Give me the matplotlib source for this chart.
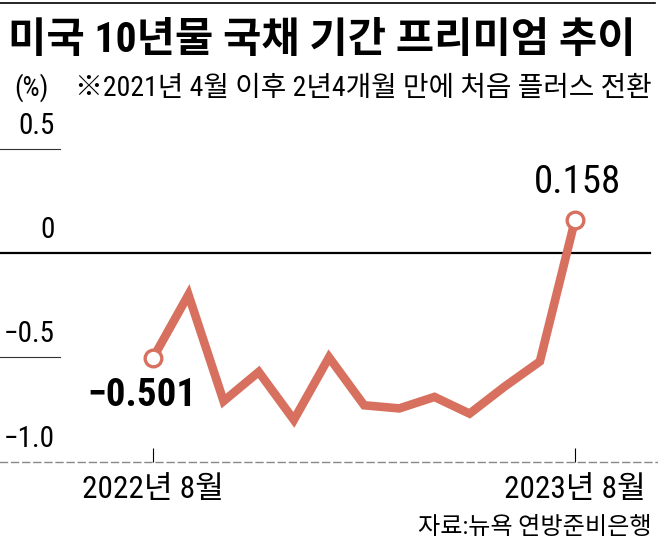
import matplotlib
matplotlib.use("Agg")
import matplotlib.pyplot as plt
from matplotlib.lines import Line2D

# monthly term premium, 2022-08 .. 2023-08 (%)
months = ['2022년 8월', '9월', '10월', '11월', '12월', '2023년 1월', '2월',
          '3월', '4월', '5월', '6월', '7월', '2023년 8월']
premium = [-0.501, -0.20, -0.71, -0.57, -0.80, -0.50, -0.73,
           -0.745, -0.69, -0.77, -0.64, -0.52, 0.158]
yticks = [0.5, 0, -0.5, -1.0]
ytick_labels = ['0.5', '0', '−0.5', '−1.0']

title = '미국 10년물 국채 기간 프리미엄 추이'
subtitle = '※2021년 4월 이후 2년4개월 만에 처음 플러스 전환'
source = '자료:뉴욕 연방준비은행'

LINE_C = '#d8705f'
NUM_FONT = ['Roboto Condensed', 'Noto Sans CJK KR', 'DejaVu Sans']
plt.rcParams['font.family'] = NUM_FONT

W, H = 658, 547
fig = plt.figure(figsize=(W / 100, H / 100), dpi=100)
ax = fig.add_axes([0, 0, 1, 1])

# map data to pixels: x index 0 -> 153px, 12 -> 575px ; y 0 -> 253px
px_x = (575 - 153.3) / 12
px_y = 208.6
ax.set_xlim(-153.3 / px_x, 12 + (W - 575) / px_x)
ax.set_ylim(-(H - 253) / px_y, 253 / px_y)

for s in ['top', 'left', 'right']:
    ax.spines[s].set_visible(False)
ax.spines['bottom'].set_position(('data', -1.0))
ax.spines['bottom'].set_linestyle((0, (5, 3)))
ax.spines['bottom'].set_color('#888888')
ax.spines['bottom'].set_linewidth(1)
ax.set_yticks([])

idx = list(range(len(premium)))
ax.set_xticks([0, 12])
ax.set_xticklabels([months[0], months[-1]], fontsize=22.5)
ax.tick_params(axis='x', direction='in', length=10, width=0.8,
               color='black', pad=10)

# gridlines
ax.axhline(0, xmin=0, xmax=650 / W, color='black', lw=1.6)
for v in [0.5, -0.5]:
    ax.axhline(v, xmin=0, xmax=60 / W, color='#333333', lw=0.8)
for v, lab in zip(yticks, ytick_labels):
    ax.annotate(lab, (55 / W, v), xycoords=ax.get_yaxis_transform(),
                xytext=(0, 23), textcoords='offset pixels',
                ha='right', va='center', fontsize=21)

ax.plot(idx, premium, color=LINE_C, lw=6.2, solid_joinstyle='miter',
        solid_capstyle='butt', marker='o', markevery=[0, len(premium) - 1],
        markersize=12, markerfacecolor='white', markeredgecolor=LINE_C,
        markeredgewidth=2.4, zorder=5)

ax.annotate('−0.501', (0, premium[0]), xytext=(-11, -38),
            textcoords='offset pixels', ha='center', va='center',
            fontsize=28, fontweight='bold')
ax.annotate(f'{premium[-1]:.3f}', (12, premium[-1]), xytext=(2, 38),
            textcoords='offset pixels', ha='center', va='center',
            fontsize=28)

# header
fig.add_artist(Line2D([0, 655 / W], [1 - 3 / H, 1 - 3 / H],
                      color='black', lw=1.2))
fig.text(8 / W, 1 - 41 / H, title, fontsize=30, fontweight='bold',
         ha='left', va='center')
fig.text(14 / W, 1 - 88 / H, '(%)', fontsize=19.5, ha='left', va='center')
fig.text(75 / W, 1 - 88 / H, subtitle, fontsize=20, ha='left', va='center')
fig.text(652 / W, 1 - 527 / H, source, fontsize=17.4, ha='right', va='center')

fig.savefig('out.png', dpi=100)
